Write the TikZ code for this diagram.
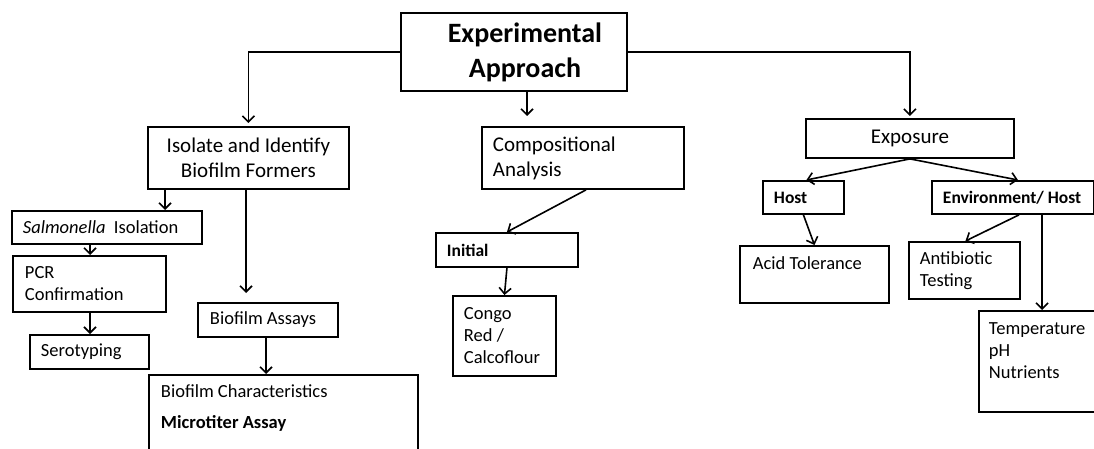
\documentclass[tikz,border=0pt]{standalone}
\usepackage{fontspec}
\setmainfont{Carlito}
\usetikzlibrary{arrows.meta}
\begin{document}
\begin{tikzpicture}[x=1pt, y=-1pt, every node/.style={draw, line width=1.9pt, anchor=north west, inner ysep=0pt, align=flush left}, big/.style={font=\fontsize{21}{25}\selectfont}, small/.style={font=\fontsize{18.5}{22}\selectfont}, tag/.style={font=\fontsize{17.5}{22}\selectfont\bfseries}, arr/.style={line width=1.6pt, -{Straight Barb[length=6pt, width=12pt]}}]
    \useasboundingbox (0,0) rectangle (1094,449);

    \node[font=\fontsize{28}{35}\selectfont\bfseries, align=center, minimum width=226pt, minimum height=78pt] (top) at (400,12) {\hspace*{22pt}Experimental\\\hspace*{22pt}Approach};

    % left branch
    \node[big, align=center, minimum width=201pt, minimum height=62pt] (iso) at (147,126) {Isolate and Identify\\Biofilm Formers};
    \node[small, text width=168pt, inner xsep=11pt, minimum height=33pt] (salm) at (11,210) {\textit{Salmonella}\ \ Isolation};
    \node[small, text width=129pt, inner xsep=12pt, minimum height=56pt] (pcr) at (12,255) {PCR\\Confirmation};
    \node[small, text width=97pt, inner xsep=11pt, minimum height=34pt] (sero) at (29,334) {Serotyping};
    \node[small, text width=116pt, inner xsep=12pt, minimum height=34pt] (assay) at (197,302) {Biofilm Assays};
    \node[small, text width=245pt, inner xsep=12pt, minimum height=85pt] (char) at (148,374) {Biofilm Characteristics\\[9pt]\textbf{Microtiter Assay}\\ \mbox{}};

    % middle branch
    \node[big, text width=180pt, inner xsep=11pt, minimum height=62pt] (comp) at (481,126) {Compositional\\Analysis};
    \node[tag, text width=120pt, inner xsep=11pt, minimum height=34pt] (init) at (435,232) {Initial};
    \node[small, text width=81pt, inner xsep=11pt, minimum height=80pt] (congo) at (452,295) {Congo\\Red /\\Calcoflour};

    % right branch
    \node[big, align=center, minimum width=208pt, minimum height=39pt] (expo) at (805,118) {Exposure};
    \node[tag, text width=59pt, inner xsep=11pt, minimum height=33pt] (host) at (762,180) {Host};
    \node[tag, text width=140pt, inner xsep=11pt, minimum height=33pt] (env) at (931,180) {\mbox{Environment/ Host}};
    \node[small, text width=123pt, inner xsep=13pt, minimum height=57pt] (acid) at (739,245) {Acid Tolerance\\ \mbox{}};
    \node[small, text width=89pt, inner xsep=11pt, minimum height=57pt] (anti) at (908,241) {Antibiotic\\Testing};
    \node[small, text width=105pt, inner xsep=10pt, minimum height=101pt] (temp) at (978,310) {Temperature\\pH\\Nutrients\\ \mbox{}};

    \coordinate (c1) at (527,0);
    \coordinate (c2) at (165,0);
    \coordinate (c3) at (246,0);
    \coordinate (c4) at (90,0);
    \coordinate (c5) at (266,0);
    \coordinate (c6) at (1042,0);

    \draw[arr, shorten >=3pt] (top.west) -| (iso.north);
    \draw[arr, shorten >=2pt] (top.east) -| (expo.north);
    \draw[arr, shorten >=10pt] (top.south -| c1) -- (comp.north -| c1);

    \draw[arr] (iso.south -| c2) -- (salm.north -| c2);
    \draw[arr, shorten >=9pt] (iso.south -| c3) -- (assay.north -| c3);
    \draw[arr] (salm.south -| c4) -- (pcr.north -| c4);
    \draw[arr] (pcr.south -| c4) -- (sero.north -| c4);
    \draw[arr] (assay.south -| c5) -- (char.north -| c5);

    \draw[arr] ([xshift=3pt]comp.south) -- (init.north);
    \draw[arr] (init.south) -- (congo.north);

    \draw[arr] (expo.south) -- ([xshift=3pt]host.north);
    \draw[arr] (expo.south) -- ([xshift=5pt]env.north);
    \draw[arr] (host.south) -- (acid.north);
    \draw[arr] ([xshift=6pt]env.south) -- ([xshift=1pt]anti.north);
    \draw[arr] (env.south -| c6) -- (temp.north -| c6);
\end{tikzpicture}
\end{document}
